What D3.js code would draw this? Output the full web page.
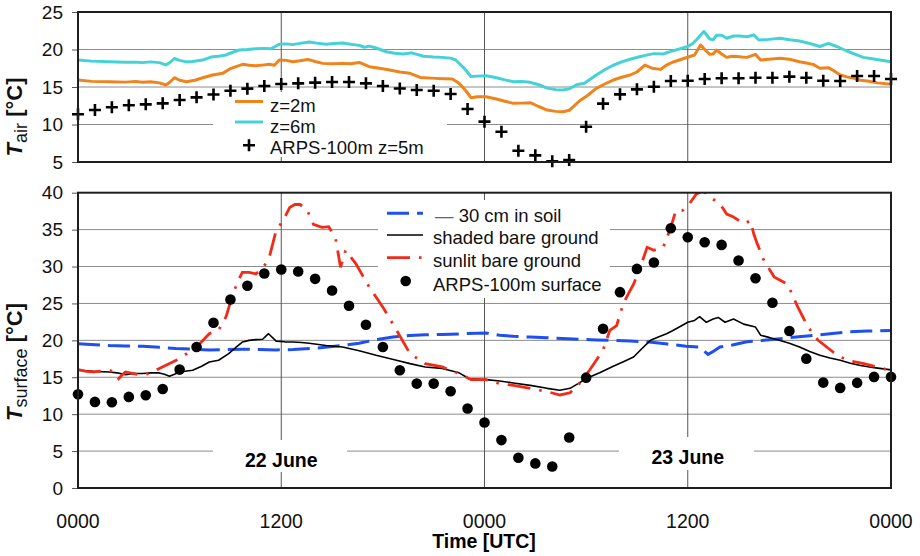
<!DOCTYPE html>
<html>
<head>
<meta charset="utf-8">
<script src="https://cdn.jsdelivr.net/npm/d3@7"></script>
<style>
  body { margin: 0; background: #fff; }
  svg { display: block; font-family: "Liberation Sans", Arial, Helvetica, sans-serif; }
</style>
</head>
<body>
<svg id="chart" width="920" height="556"></svg>
<script>
// ---- data -------------------------------------------------------------
// time axis: hours since 0000 UTC on 22 June
const xTickHours = [0, 12, 24, 36, 48];
const xTickLabels = ["0000", "1200", "0000", "1200", "0000"];
const airTicks = [5, 10, 15, 20, 25];
const surfTicks = [0, 5, 10, 15, 20, 25, 30, 35, 40];
const dayLabels = ["22 June", "23 June"];

// hourly model output
const arpsHours = d3.range(0, 49);
const arpsAir = [11.36, 11.93, 12.3, 12.56, 12.69, 12.82, 13.27, 13.62, 14.0, 14.5, 14.78, 15.13,
  15.4, 15.49, 15.58, 15.67, 15.67, 15.49, 15.13, 14.8, 14.6, 14.5, 14.07, 12.07, 10.38, 9.04,
  6.5, 5.89, 5.09, 5.27, 9.71, 12.78, 14.02, 14.69, 15.04, 15.8, 15.84, 16.07, 16.16, 16.16,
  16.24, 16.24, 16.38, 16.24, 15.84, 15.8, 16.47, 16.47, 16.07];
const arpsSurface = [12.7, 11.66, 11.62, 12.34, 12.57, 13.42, 16.04, 19.1, 22.39, 25.54, 27.39,
  29.05, 29.6, 29.33, 28.33, 26.76, 24.68, 22.11, 19.1, 15.95, 14.14, 14.14, 13.1, 10.77, 8.87,
  6.49, 4.1, 3.33, 2.92, 6.85, 14.95, 21.58, 26.53, 29.68, 30.54, 35.18, 33.97, 33.29, 32.93,
  30.81, 28.42, 25.09, 21.26, 17.52, 14.28, 13.56, 14.24, 15.05, 15.05];

// measured air temperature, [hour, °C]
const air2m = [[0,15.93],[0.8,15.75],[1.85,15.71],[2.8,15.65],[3.4,15.75],[3.82,15.62],[4.3,15.7],
  [4.8,15.55],[5.19,15.27],[5.45,15.7],[5.69,16.24],[6.0,15.9],[6.4,15.71],[6.9,15.9],[7.36,16.24],
  [7.95,16.6],[8.54,16.82],[9.03,17.49],[9.72,18.02],[10.1,17.9],[10.5,17.84],[11.0,17.95],
  [11.3,18.02],[11.6,17.9],[11.88,18.6],[12.3,18.55],[12.67,18.37],[13.1,18.5],[13.56,18.68],
  [14.0,18.4],[14.44,18.15],[15.0,18.1],[15.62,18.15],[16.1,18.1],[16.6,18.28],[17.2,17.71],
  [17.8,17.5],[18.4,17.27],[19.0,17.0],[19.6,16.82],[20.2,16.28],[21.1,16.15],[21.6,16.1],
  [22.1,16.06],[22.5,15.49],[22.9,14.5],[23.2,13.58],[23.6,13.7],[24.1,13.71],[24.7,13.4],
  [25.2,13.1],[25.7,12.82],[26.2,12.85],[26.7,12.91],[27.2,12.4],[27.7,11.93],[28.2,11.75],
  [28.65,11.71],[29.0,11.9],[29.25,12.38],[29.6,13.13],[30.1,13.9],[30.6,14.82],[31.1,15.4],
  [31.6,15.93],[32.1,16.3],[32.6,16.6],[33.0,17.0],[33.47,17.93],[33.9,17.5],[34.4,17.35],
  [34.75,17.93],[35.1,18.3],[35.5,18.6],[35.9,18.9],[36.4,19.27],[36.76,20.6],[37.0,20.0],
  [37.3,19.35],[37.5,19.4],[37.7,19.93],[38.0,19.4],[38.3,18.95],[38.6,19.1],[38.9,19.08],
  [39.2,19.0],[39.5,18.95],[40.0,19.35],[40.3,18.6],[40.8,18.7],[41.44,18.82],[42.0,18.7],
  [42.6,18.37],[43.0,18.2],[43.4,18.02],[43.8,17.49],[44.3,17.58],[44.6,17.2],[45.0,16.6],
  [45.4,16.35],[45.8,16.15],[46.2,15.9],[46.6,15.8],[47.2,15.55],[48,15.35]];

const air6m = [[0,18.6],[0.8,18.45],[1.85,18.37],[2.8,18.3],[3.5,18.3],[3.82,18.25],[4.3,18.35],
  [4.8,18.25],[5.19,17.95],[5.45,18.3],[5.69,18.8],[6.0,18.55],[6.4,18.35],[6.77,18.4],[7.36,18.6],
  [7.95,19.04],[8.3,19.1],[8.74,19.27],[9.1,19.6],[9.52,19.93],[10.0,20.0],[10.5,20.1],[11.0,20.15],
  [11.4,20.1],[11.88,20.7],[12.3,20.75],[12.67,20.65],[13.2,20.85],[13.65,21.0],[14.1,20.85],
  [14.64,20.7],[15.1,20.8],[15.62,20.88],[16.1,20.7],[16.6,20.55],[16.9,20.3],[17.2,20.45],
  [17.6,20.2],[18.2,19.7],[18.7,19.5],[19.2,19.4],[19.7,19.55],[20.4,19.1],[21.0,19.0],[21.5,18.95],
  [22.0,18.85],[22.3,18.6],[22.8,17.5],[23.2,16.4],[23.6,16.45],[24.1,16.5],[24.7,16.24],
  [25.2,15.95],[25.7,15.71],[26.2,15.72],[26.7,15.62],[27.2,15.3],[27.7,14.85],[28.2,14.65],
  [28.65,14.6],[29.0,14.75],[29.44,15.3],[29.9,15.5],[30.6,16.6],[31.1,17.3],[31.6,17.9],
  [32.1,18.35],[32.6,18.7],[33.1,19.0],[33.57,19.25],[34.0,19.45],[34.55,19.4],[35.0,19.75],
  [35.5,20.06],[36.0,20.4],[36.3,20.8],[36.6,21.5],[36.95,22.4],[37.3,21.4],[37.5,21.3],
  [37.7,21.9],[38.0,21.9],[38.3,21.5],[38.7,21.8],[39.1,21.8],[39.5,21.7],[39.9,21.95],
  [40.2,21.26],[40.8,21.35],[41.44,21.49],[42.0,21.3],[42.6,21.13],[43.2,20.8],[43.8,20.4],
  [44.3,20.82],[44.8,20.4],[45.4,19.8],[45.9,19.35],[46.36,18.95],[46.8,18.8],[47.35,18.6],
  [48,18.35]];

// measured surface / soil temperature, [hour, °C]
const soil30cm = [[0,19.55],[1,19.4],[1.85,19.3],[2.8,19.25],[3.82,19.2],[4.8,19.05],[5.78,18.9],
  [6.8,18.8],[7.75,18.7],[8.7,18.75],[9.7,18.8],[10.7,18.75],[11.7,18.7],[12.7,18.75],[13.7,18.9],
  [14.6,19.05],[15.6,19.3],[16.6,19.6],[17.6,20.1],[18.6,20.45],[19.6,20.67],[20.5,20.75],
  [21.5,20.8],[22.8,20.9],[24.1,21.0],[24.9,20.7],[25.7,20.54],[26.7,20.45],[27.7,20.36],
  [28.6,20.25],[29.6,20.14],[30.6,20.05],[31.6,20.0],[32.6,19.9],[33.6,19.8],[34.8,19.5],
  [35.9,19.2],[36.7,19.1],[37.2,18.1],[37.5,18.5],[37.9,19.1],[38.7,19.4],[39.5,19.8],[40.5,20.0],
  [41.44,20.23],[42.4,20.45],[43.4,20.67],[44.4,20.9],[45.4,21.13],[46.6,21.25],[48,21.35]];

const shadedGround = [[0,15.95],[0.9,15.8],[1.85,15.72],[2.3,15.6],[2.8,15.36],[3.3,15.5],
  [3.82,15.5],[4.3,15.6],[4.8,15.59],[5.1,15.4],[5.4,15.14],[5.7,15.4],[5.98,15.72],[6.77,15.95],
  [7.3,16.5],[7.75,17.07],[8.3,17.3],[8.9,18.2],[9.3,19.0],[9.72,19.78],[10.1,20.0],[10.5,20.1],
  [10.9,20.15],[11.25,20.9],[11.7,19.9],[12.2,19.8],[12.7,19.78],[13.2,19.7],[13.65,19.6],
  [14.64,19.3],[15.62,19.1],[16.6,18.6],[17.6,17.97],[18.8,17.3],[19.6,16.85],[20.5,16.4],
  [21.5,16.2],[22.5,15.6],[23.1,14.8],[24.1,14.68],[24.9,14.5],[25.7,14.23],[26.7,13.9],
  [27.7,13.5],[28.45,13.24],[29.05,13.5],[29.5,14.1],[30.0,14.82],[30.8,15.6],[31.6,16.5],
  [32.2,17.1],[32.8,17.75],[33.3,18.9],[33.8,20.0],[34.3,20.5],[34.75,20.9],[35.1,21.3],
  [35.5,21.8],[36.0,22.45],[36.4,22.7],[36.7,23.2],[37.1,22.45],[37.5,22.9],[37.8,23.1],
  [38.2,22.45],[38.7,22.9],[39.3,22.2],[40.0,21.8],[40.3,20.7],[40.8,20.4],[41.4,20.0],
  [42.0,19.6],[42.6,19.1],[43.2,18.5],[43.8,17.97],[44.4,17.6],[45.0,17.3],[45.6,16.9],
  [46.2,16.6],[47.0,16.3],[48,16.0]];

const sunlitGround = [[0,16.04],[0.5,15.8],[0.9,15.72],[1.4,15.85],[1.85,15.95],[2.2,15.6],
  [2.4,14.82],[2.6,15.3],[2.8,15.72],[3.3,15.5],[3.8,15.27],[4.3,15.6],[4.8,16.2],[5.8,17.3],
  [6.77,18.7],[7.3,19.8],[7.75,20.9],[8.3,21.4],[8.74,23.2],[9.1,25.9],[9.4,27.8],[9.7,29.2],
  [10.1,29.2],[10.5,29.0],[10.9,29.7],[11.3,31.3],[11.7,34.9],[12.1,36.2],[12.5,38.0],[12.8,38.4],
  [13.1,38.4],[13.5,37.8],[13.9,35.7],[14.4,35.3],[14.8,35.4],[15.2,33.9],[15.5,29.9],[15.8,32.2],
  [16.4,30.4],[17.2,27.2],[18.0,24.5],[18.8,21.4],[19.6,18.2],[20.5,16.85],[21.5,16.4],[22.5,15.5],
  [23.2,14.68],[24.1,14.68],[24.9,14.14],[25.7,13.9],[26.7,13.5],[27.7,13.05],[28.45,12.6],
  [29.05,12.9],[29.6,14.14],[30.2,15.95],[30.6,17.3],[31.0,18.7],[31.4,21.35],[31.8,22.0],
  [32.2,25.0],[32.4,25.9],[32.8,27.6],[33.2,29.9],[33.6,32.6],[34.0,32.2],[34.55,32.6],[35.0,35.3],
  [35.3,37.6],[35.7,37.6],[36.1,38.5],[36.5,39.8],[36.9,40.3],[37.3,39.4],[37.9,38.5],[38.3,37.1],
  [38.7,36.7],[39.3,35.8],[39.7,36.2],[39.9,34.4],[40.1,33.1],[40.5,30.8],[41.1,28.6],[41.9,27.6],
  [42.5,24.5],[43.1,21.8],[43.7,20.0],[44.7,18.2],[45.4,17.3],[46.4,16.85],[48,15.9]];

// ---- layout -----------------------------------------------------------
const svg = d3.select("#chart");
const L = 78, R = 891;
const airTop = 12, airBottom = 162;
const surfTop = 192.7, surfBottom = 488;

const x = d3.scaleLinear().domain([0, 48]).range([L, R]);
const yAir = d3.scaleLinear().domain([5, 25]).range([airBottom, airTop]);
const ySurf = d3.scaleLinear().domain([0, 40]).range([surfBottom, surfTop]);

const COL = {
  orange: "#F0841C", cyan: "#45D2D6", blue: "#1F4FEE", red: "#F42A18",
  grid: "#8c8c8c", frame: "#1e1e1e"
};

const defs = svg.append("defs");
defs.append("clipPath").attr("id", "clipAir")
  .append("rect").attr("x", L).attr("y", airTop).attr("width", R - L).attr("height", airBottom - airTop);
defs.append("clipPath").attr("id", "clipSurf")
  .append("rect").attr("x", L).attr("y", surfTop).attr("width", R - L).attr("height", surfBottom - surfTop);

function panelGrid(y, ticks, top, bottom) {
  const g = svg.append("g");
  // horizontal grid
  g.selectAll("line.h").data(ticks.slice(1, -1)).join("line")
    .attr("x1", L).attr("x2", R)
    .attr("y1", d => y(d)).attr("y2", d => y(d))
    .attr("stroke", COL.grid).attr("stroke-width", 1);
  // vertical grid at inner time ticks
  g.selectAll("line.v").data(xTickHours.slice(1, -1)).join("line")
    .attr("x1", d => x(d)).attr("x2", d => x(d))
    .attr("y1", top).attr("y2", bottom)
    .attr("stroke", "#555").attr("stroke-width", 1);
  // y axis ticks and labels
  const axis = d3.axisLeft(y).tickValues(ticks).tickSize(6).tickPadding(9).tickFormat(d3.format("d"));
  const ag = svg.append("g").attr("transform", `translate(${L},0)`).call(axis);
  ag.select(".domain").remove();
  ag.selectAll(".tick line").attr("stroke", "#555");
  ag.selectAll(".tick text").attr("font-size", 19).attr("fill", "#111")
    .attr("font-family", '"Liberation Sans", Arial, sans-serif');
  return g;
}

panelGrid(yAir, airTicks, airTop, airBottom);
panelGrid(ySurf, surfTicks, surfTop, surfBottom);

// white label backgrounds sit over the grid
const boxes = [
  [213, 92, 234, 65],   // air legend
  [378, 200, 232, 98],  // surface legend
  [213, 440, 134, 32],  // 22 June
  [619, 437, 135, 33]   // 23 June
];
svg.append("g").selectAll("rect").data(boxes).join("rect")
  .attr("x", d => d[0]).attr("y", d => d[1]).attr("width", d => d[2]).attr("height", d => d[3])
  .attr("fill", "#fff");

// ---- air temperature panel ---------------------------------------------
const lineAir = d3.line().x(d => x(d[0])).y(d => yAir(d[1]));
const gAir = svg.append("g").attr("clip-path", "url(#clipAir)");
gAir.append("path").attr("d", lineAir(air6m)).attr("fill", "none")
  .attr("stroke", COL.cyan).attr("stroke-width", 3).attr("stroke-linejoin", "round");
gAir.append("path").attr("d", lineAir(air2m)).attr("fill", "none")
  .attr("stroke", COL.orange).attr("stroke-width", 3).attr("stroke-linejoin", "round");

const plusPath = "M-6,0H6M0,-6V6";
svg.append("g").selectAll("path").data(arpsHours).join("path")
  .attr("transform", (h, i) => `translate(${x(h)},${yAir(arpsAir[i])})`)
  .attr("d", plusPath).attr("stroke", "#000").attr("stroke-width", 2.6);

// ---- surface temperature panel -------------------------------------------
const lineSurf = d3.line().x(d => x(d[0])).y(d => ySurf(d[1]));
const gSurf = svg.append("g").attr("clip-path", "url(#clipSurf)");
gSurf.append("path").attr("d", lineSurf(soil30cm)).attr("fill", "none")
  .attr("stroke", COL.blue).attr("stroke-width", 3).attr("stroke-dasharray", "22,8");
gSurf.append("path").attr("d", lineSurf(shadedGround)).attr("fill", "none")
  .attr("stroke", "#000").attr("stroke-width", 1.6).attr("stroke-linejoin", "round");
gSurf.append("path").attr("d", lineSurf(sunlitGround)).attr("fill", "none")
  .attr("stroke", COL.red).attr("stroke-width", 2.8).attr("stroke-dasharray", "23,9,2.5,9");

svg.append("g").selectAll("circle").data(arpsHours).join("circle")
  .attr("cx", h => x(h)).attr("cy", (h, i) => ySurf(arpsSurface[i])).attr("r", 5.3)
  .attr("fill", "#000");

// ---- frames ---------------------------------------------------------------
[[airTop, airBottom], [surfTop, surfBottom]].forEach(([t, b]) => {
  svg.append("rect").attr("x", L).attr("y", t).attr("width", R - L).attr("height", b - t)
    .attr("fill", "none").attr("stroke", COL.frame).attr("stroke-width", 2);
});

// ---- x axis labels ----------------------------------------------------------
svg.append("g").selectAll("text").data(xTickHours).join("text")
  .attr("x", h => x(h)).attr("y", 528).attr("text-anchor", "middle")
  .attr("font-size", 19.5).attr("fill", "#111").text((h, i) => xTickLabels[i]);

svg.append("text").attr("x", 484).attr("y", 548).attr("text-anchor", "middle")
  .attr("font-size", 19.5).attr("font-weight", "bold").text("Time [UTC]");

// day labels
svg.append("text").attr("x", x(12)).attr("y", 466.5).attr("text-anchor", "middle")
  .attr("font-size", 19.5).attr("font-weight", "bold").text(dayLabels[0]);
svg.append("text").attr("x", x(36)).attr("y", 463.5).attr("text-anchor", "middle")
  .attr("font-size", 19.5).attr("font-weight", "bold").text(dayLabels[1]);

// ---- y axis titles -------------------------------------------------------------
function yTitle(cx, cy, sub) {
  const t = svg.append("text")
    .attr("transform", `translate(${cx},${cy}) rotate(-90)`)
    .attr("text-anchor", "middle").attr("font-size", 22).attr("font-weight", "bold").attr("fill", "#111");
  t.append("tspan").attr("font-style", "italic").text("T");
  t.append("tspan").attr("font-size", 18).attr("font-weight", "normal").attr("dy", 5).text(sub);
  t.append("tspan").attr("dy", -5).text(" [°C]");
}
yTitle(22, 117, "air");
yTitle(22, 362, "surface");

// ---- legends -------------------------------------------------------------------
const legFont = 18.5;
const la = svg.append("g").attr("font-size", legFont).attr("fill", "#111");
la.append("line").attr("x1", 235).attr("x2", 263).attr("y1", 101.5).attr("y2", 101.5)
  .attr("stroke", COL.orange).attr("stroke-width", 3);
la.append("text").attr("x", 270).attr("y", 112).text("z=2m");
la.append("line").attr("x1", 235).attr("x2", 263).attr("y1", 122).attr("y2", 122)
  .attr("stroke", COL.cyan).attr("stroke-width", 3);
la.append("text").attr("x", 270).attr("y", 133).text("z=6m");
la.append("path").attr("transform", "translate(249,145.3)").attr("d", plusPath)
  .attr("stroke", "#000").attr("stroke-width", 2.6);
la.append("text").attr("x", 270).attr("y", 154).text("ARPS-100m z=5m");

const ls = svg.append("g").attr("font-size", legFont).attr("fill", "#111");
ls.append("line").attr("x1", 387).attr("x2", 423).attr("y1", 213.3).attr("y2", 213.3)
  .attr("stroke", COL.blue).attr("stroke-width", 3).attr("stroke-dasharray", "22,8");
const soilText = ls.append("text").attr("x", 435).attr("y", 222);
soilText.append("tspan").attr("fill", "#666").text("—");
soilText.append("tspan").text(" 30 cm in soil");
ls.append("line").attr("x1", 387).attr("x2", 423).attr("y1", 235).attr("y2", 235)
  .attr("stroke", "#000").attr("stroke-width", 1.6);
ls.append("text").attr("x", 433).attr("y", 244).text("shaded bare ground");
ls.append("line").attr("x1", 387).attr("x2", 423).attr("y1", 257.7).attr("y2", 257.7)
  .attr("stroke", COL.red).attr("stroke-width", 2.8).attr("stroke-dasharray", "23,9,2.5,9");
ls.append("text").attr("x", 433).attr("y", 266.7).text("sunlit bare ground");
ls.append("circle").attr("cx", 405.7).attr("cy", 281).attr("r", 5.3).attr("fill", "#000");
ls.append("text").attr("x", 433).attr("y", 290.5).text("ARPS-100m surface");
</script>
</body>
</html>
